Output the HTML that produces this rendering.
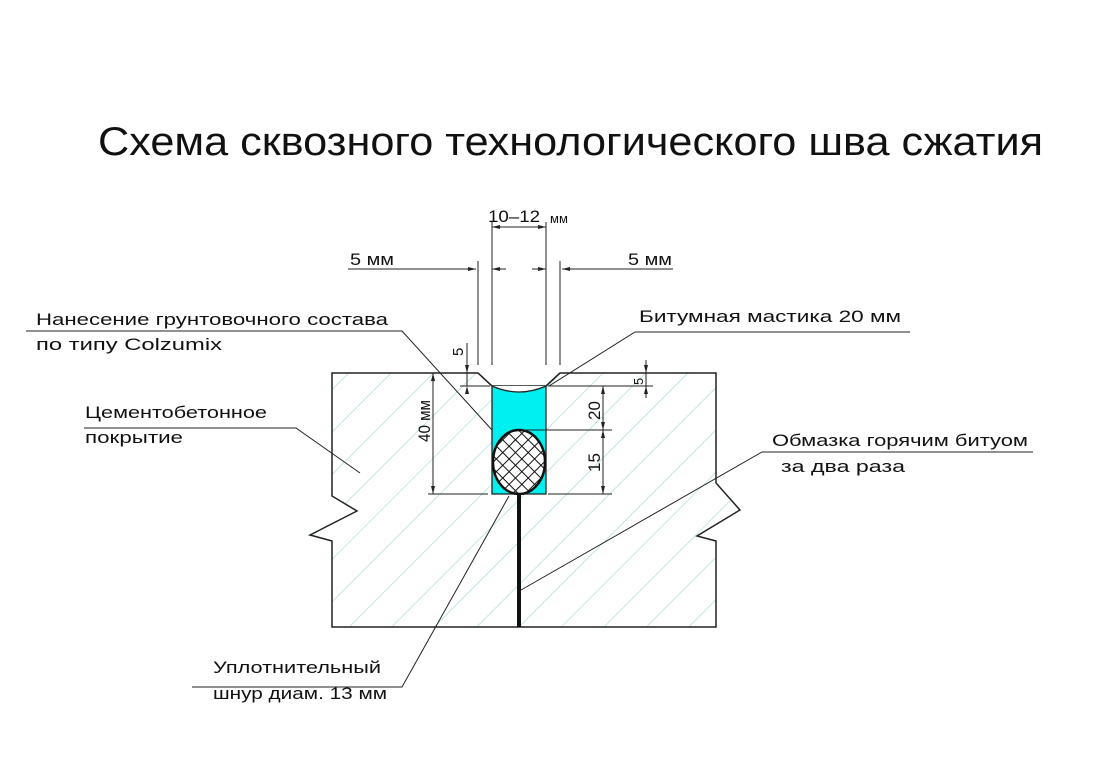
<!DOCTYPE html>
<html><head><meta charset="utf-8"><style>
html,body{margin:0;padding:0;background:#fff;}
svg{display:block;}
text{font-family:"Liberation Sans Narrow","Liberation Sans","DejaVu Sans",sans-serif;fill:#111;}
</style></head><body>
<svg width="1100" height="782" viewBox="0 0 1100 782" xmlns="http://www.w3.org/2000/svg">
<defs>
<pattern id="h" patternUnits="userSpaceOnUse" width="30" height="30" patternTransform="rotate(45)">
<line x1="0" y1="0" x2="0" y2="30" stroke="#9fd6d6" stroke-width="1.2"/>
</pattern>
<pattern id="x" patternUnits="userSpaceOnUse" width="9" height="9" patternTransform="rotate(45)">
<rect width="9" height="9" fill="#fff"/>
<path d="M0 0H9M0 0V9" stroke="#111" stroke-width="2"/>
</pattern>
<clipPath id="ec"><ellipse cx="519" cy="462" rx="26" ry="32"/></clipPath>
</defs>

<text x="98" y="155" font-size="40" textLength="945" lengthAdjust="spacingAndGlyphs">Схема сквозного технологического шва сжатия</text>

<!-- block -->
<path d="M332 373 H478 L492 386 H546 L560 373 H716 V483 L740 510 L697 536 L716 541 V627 H332 V541 L310 535 L357 511 L332 496 Z" fill="url(#h)" stroke="#222" stroke-width="1.5"/>
<!-- cyan fill -->
<path d="M492 386 Q519 398 546 386 V494 H492 Z" fill="#00f0f0"/>
<path d="M492 386 Q519 398 546 386" fill="#fff" stroke="none"/>
<path d="M492 386 Q519 398 546 386 V494 H492 Z" fill="#00f0f0" stroke="#222" stroke-width="1.3"/>
<path d="M478 373 L492 386 M546 386 L560 373" stroke="#222" stroke-width="1.3" fill="none"/>
<!-- cord -->
<ellipse cx="519" cy="462" rx="26" ry="32" fill="#fff"/>
<rect x="490" y="428" width="60" height="70" fill="url(#x)" clip-path="url(#ec)"/>
<ellipse cx="519" cy="462" rx="26" ry="32" fill="none" stroke="#111" stroke-width="2.5"/>
<line x1="519" y1="494" x2="519" y2="627" stroke="#111" stroke-width="4"/>

<g stroke="#222" stroke-width="1" fill="none">
<!-- top dims -->
<line x1="492" y1="222" x2="492" y2="365"/>
<line x1="546" y1="222" x2="546" y2="365"/>
<line x1="492" y1="227" x2="546" y2="227"/>
<line x1="478" y1="261" x2="478" y2="365"/>
<line x1="560" y1="261" x2="560" y2="365"/>
<line x1="348" y1="269" x2="476" y2="269"/>
<line x1="562" y1="269" x2="673" y2="269"/>
<line x1="492" y1="269" x2="506" y2="269"/>
<line x1="532" y1="269" x2="546" y2="269"/>
<!-- left 5 -->
<line x1="467" y1="343" x2="467" y2="386"/>
<line x1="460" y1="373" x2="476" y2="373"/>
<line x1="460" y1="386" x2="490" y2="386"/>
<!-- 40 mm -->
<line x1="433" y1="373" x2="433" y2="494"/>
<line x1="428" y1="494" x2="488" y2="494"/>
<!-- right dims -->
<line x1="603" y1="386" x2="603" y2="494"/>
<line x1="548" y1="494" x2="612" y2="494"/>
<line x1="522" y1="430" x2="612" y2="430"/>
<line x1="548" y1="386" x2="653" y2="386"/>
<line x1="646" y1="360" x2="646" y2="398"/>
<line x1="640" y1="373" x2="652" y2="373"/>
<!-- leaders -->
<polyline points="26,331 402,331 492,430"/>
<polyline points="910,332 635,332 549,386"/>
<polyline points="84,428 296,428 360,473"/>
<polyline points="1033,452 762,452 521,590"/>
<polyline points="192,687 402,687 509,496"/>
</g>
<g fill="#222">
<path d="M492 227 l8 -2 v4 z M546 227 l-8 -2 v4 z"/>
<path d="M476 269 l-8 -2 v4 z M492 269 l8 -2 v4 z M546 269 l-8 -2 v4 z M562 269 l8 -2 v4 z"/>
<path d="M467 373 l-2 -8 h4 z M467 386 l-2 8 h4 z"/>
<path d="M433 373 l-2 8 h4 z M433 494 l-2 -8 h4 z"/>
<path d="M603 386 l-2 8 h4 z M603 430 l-2 -8 h4 z M603 430 l-2 8 h4 z M603 494 l-2 -8 h4 z"/>
<path d="M646 373 l-2 -8 h4 z M646 386 l-2 8 h4 z"/>
</g>

<g font-size="17">
<text x="488" y="222" textLength="52" lengthAdjust="spacingAndGlyphs">10–12</text>
<text x="550" y="223" font-size="13">мм</text>
<text x="350" y="265" textLength="44" lengthAdjust="spacingAndGlyphs">5  мм</text>
<text x="628" y="265" textLength="44" lengthAdjust="spacingAndGlyphs">5  мм</text>
<text x="36" y="325" textLength="352" lengthAdjust="spacingAndGlyphs">Нанесение грунтовочного состава</text>
<text x="36" y="350" textLength="186" lengthAdjust="spacingAndGlyphs">по типу Colzumix</text>
<text x="639" y="322" textLength="262" lengthAdjust="spacingAndGlyphs">Битумная мастика 20 мм</text>
<text x="85" y="418" textLength="182" lengthAdjust="spacingAndGlyphs">Цементобетонное</text>
<text x="85" y="443" textLength="98" lengthAdjust="spacingAndGlyphs">покрытие</text>
<text x="772" y="446" textLength="256" lengthAdjust="spacingAndGlyphs">Обмазка горячим битуом</text>
<text x="781" y="472" textLength="124" lengthAdjust="spacingAndGlyphs">за два раза</text>
<text x="213" y="673" textLength="168" lengthAdjust="spacingAndGlyphs">Уплотнительный</text>
<text x="213" y="699" textLength="174" lengthAdjust="spacingAndGlyphs">шнур диам. 13 мм</text>
<text transform="translate(430,442) rotate(-90)" textLength="42" lengthAdjust="spacingAndGlyphs">40 мм</text>
<text transform="translate(600,420) rotate(-90)">20</text>
<text transform="translate(600,472) rotate(-90)">15</text>
<text transform="translate(463,356) rotate(-90)" font-size="15">5</text>
<text transform="translate(643,385) rotate(-90)" font-size="13">5</text>
</g>
</svg>
</body></html>
